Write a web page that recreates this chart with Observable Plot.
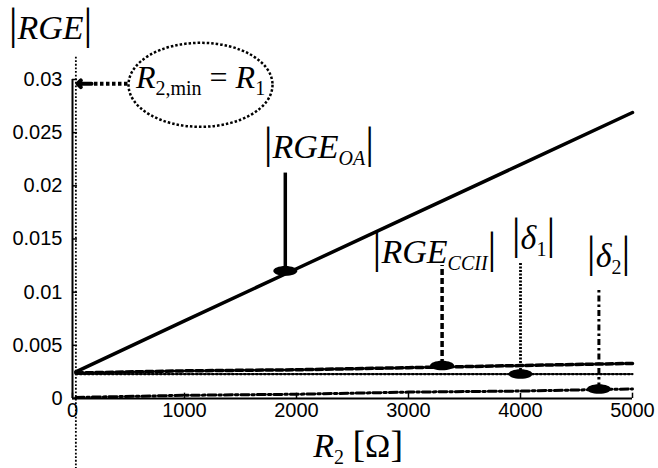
<!DOCTYPE html>
<html><head><meta charset="utf-8">
<script src="https://cdn.jsdelivr.net/npm/d3@7"></script>
<script src="https://cdn.jsdelivr.net/npm/@observablehq/plot@0.6"></script>
<style>body{margin:0;background:#fff} svg{display:block}</style>
</head><body><div id="chart"></div>
<script>
// ---- data ----
const R2 = [30, 1000, 2000, 3000, 4000, 5000];
const rgeOA   = [0.0025, 0.0073, 0.0122, 0.0171, 0.0220, 0.0269];
const rgeCCII = [0.0024, 0.0026, 0.0027, 0.0029, 0.0031, 0.0033];
const delta1  = [0.0023, 0.0023, 0.0023, 0.0023, 0.0023, 0.0023];
const delta2  = [0.0001, 0.0003, 0.0004, 0.0006, 0.0007, 0.0009];
const seriesNames = ["OA", "CCII", "d1", "d2"];
const seriesValues = [rgeOA, rgeCCII, delta1, delta2];

const xTicks = [0, 1000, 2000, 3000, 4000, 5000];
const yTicks = [0, 0.005, 0.01, 0.015, 0.02, 0.025, 0.03];
const yTickLabels = ["0", "0.005", "0.01", "0.015", "0.02", "0.025", "0.03"];

// pointer annotations
const markerR     = [1900, 3300, 4000, 4700];
const markerValue = [0.0120, 0.0031, 0.0023, 0.0009];
const pointerTop  = [0.0212, 0.0125, 0.0128, 0.0104];
const labelText   = ["|RGE_{OA}|", "|RGE_{CCII}|", "|δ_{1}|", "|δ_{2}|"];
const labelR      = [2200, 3232, 4116, 4786];
const labelValue  = [0.0236, 0.0138, 0.0151, 0.0134];

// R2,min = R1 annotation
const R1 = 30;
const minLineTop = 0.0321, minLineBottom = -0.0066;
const noteText = "R_{2,min} = R_{1}";
const noteR = 1143, noteValue = 0.0302, ellipseValue = 0.0295;
const arrowTailR = 491, arrowHeadStartR = 170, arrowTipR = 45, arrowValue = 0.0296;

const titleText = "|RGE|";
const titleR = -196, titleValue = 0.0348;
const xTitleText = "R_{2} [Ω]";
const xTitleR = 2550, xTitleValue = -0.0045;

// ---- build tables ----
const rows = seriesNames.flatMap((s, k) => R2.map((r, i) => ({series: s, R2: r, value: seriesValues[k][i]})));
const pointers = seriesNames.map((s, i) => ({series: s, R2: markerR[i], v: markerValue[i], top: pointerTop[i]}));
const labels = labelText.map((t, i) => ({text: t, R2: labelR[i], v: labelValue[i]}));

const styles = {
  OA:   {line: {strokeWidth: 3.5}, ptr: {strokeWidth: 3.5}},
  CCII: {line: {strokeWidth: 3.5, strokeDasharray: "7,3"}, ptr: {strokeWidth: 3.5, strokeDasharray: "6,3"}},
  d1:   {line: {strokeWidth: 2.2, strokeDasharray: "2,2"}, ptr: {strokeWidth: 2.8, strokeDasharray: "2,1.5"}},
  d2:   {line: {strokeWidth: 3, strokeDasharray: "8,3,2.5,3"}, ptr: {strokeWidth: 3, strokeDasharray: "6,3,2.5,3"}}
};

function ellipseSymbol(ratio) {
  return {draw(ctx, size) {
    const rx = Math.sqrt(size / Math.PI), ry = rx * ratio, k = 0.5523;
    ctx.moveTo(rx, 0);
    ctx.bezierCurveTo(rx, ry * k, rx * k, ry, 0, ry);
    ctx.bezierCurveTo(-rx * k, ry, -rx, ry * k, -rx, 0);
    ctx.bezierCurveTo(-rx, -ry * k, -rx * k, -ry, 0, -ry);
    ctx.bezierCurveTo(rx * k, -ry, rx, -ry * k, rx, 0);
    ctx.closePath();
  }};
}

const serif = "Liberation Serif, Times New Roman, serif";
const sans = "Liberation Sans, Arial, sans-serif";

const marks = [
  // axes lines
  Plot.ruleY([0], {stroke: "black", strokeWidth: 2}),
  Plot.ruleX([0], {stroke: "black", strokeWidth: 2}),
  // inward ticks
  Plot.ruleX(xTicks, {x: d => d, y1: 0, y2: 0.0005, stroke: "black", strokeWidth: 1.5}),
  Plot.ruleY(yTicks, {y: d => d, x1: 0, x2: 45, stroke: "black", strokeWidth: 1.5}),
  // tick labels
  Plot.text(xTicks, {x: d => d, y: 0, dy: 12, text: d => String(d), fontFamily: sans, fontSize: 20, lineAnchor: "middle", fill: "black"}),
  Plot.text(yTicks, {x: 0, y: d => d, dx: -10, text: (d, i) => yTickLabels[i], textAnchor: "end", fontFamily: sans, fontSize: 20, lineAnchor: "middle", fill: "black"}),
  // R2,min vertical dotted
  Plot.ruleX([R1], {x: d => d, y1: minLineTop, y2: minLineBottom, stroke: "black", strokeWidth: 1.8, strokeDasharray: "1.8,1.8"}),
  // series lines
  ...seriesNames.map(s => Plot.line(rows.filter(d => d.series === s), {x: "R2", y: "value", stroke: "black", ...styles[s].line})),
  // pointers
  ...seriesNames.map((s, i) => Plot.ruleX([pointers[i]], {x: "R2", y1: "v", y2: "top", stroke: "black", ...styles[s].ptr})),
  Plot.dot(pointers, {x: "R2", y: "v", r: 12, symbol: ellipseSymbol(0.4), fill: "black", stroke: "none"}),
  // labels
  Plot.text(labels, {x: "R2", y: "v", text: "text", fontFamily: serif, fontSize: 34, fontStyle: "italic", lineAnchor: "middle", fill: "black"}),
  Plot.text([titleText], {x: titleR, y: titleValue, text: d => d, fontFamily: serif, fontSize: 34, fontStyle: "italic", lineAnchor: "middle", fill: "black"}),
  Plot.text([xTitleText], {x: xTitleR, y: xTitleValue, text: d => d, fontFamily: serif, fontSize: 34, fontStyle: "italic", lineAnchor: "middle", fill: "black"}),
  // R2,min annotation
  Plot.dot([noteR], {x: d => d, y: ellipseValue, r: 72, symbol: ellipseSymbol(42 / 72), fill: "none", stroke: "black", strokeWidth: 2.5, strokeDasharray: "2.5,2"}),
  Plot.text([noteText], {x: noteR, y: noteValue, text: d => d, fontFamily: serif, fontSize: 32, fontStyle: "italic", lineAnchor: "middle", fill: "black"}),
  Plot.link([0], {x1: arrowTailR, x2: arrowHeadStartR, y1: arrowValue, y2: arrowValue, stroke: "black", strokeWidth: 4, strokeDasharray: "3.5,2.5"}),
  Plot.arrow([0], {x1: arrowHeadStartR, x2: arrowTipR, y1: arrowValue, y2: arrowValue, stroke: "black", strokeWidth: 4, headLength: 15, headAngle: 90})
];

const plot = Plot.plot({
  width: 658, height: 468,
  marginLeft: 72, marginRight: 26, marginTop: 79, marginBottom: 70,
  x: {domain: [0, 5000], axis: null},
  y: {domain: [0, 0.03], axis: null},
  style: {background: "white", fontFamily: sans},
  marks
});

// rich text: bars, subscripts, italics
function richText(el, s) {
  el.textContent = "";
  el.setAttribute("style", "white-space: pre");
  let shift = 0, i = 0;
  const add = (str, o) => {
    const t = document.createElementNS("http://www.w3.org/2000/svg", "tspan");
    t.textContent = str;
    const sh = o.shift || 0;
    if (sh !== shift) t.setAttribute("dy", sh - shift);
    shift = sh;
    t.setAttribute("font-style", o.italic ? "italic" : "normal");
    if (o.size) t.setAttribute("font-size", o.size);
    el.appendChild(t);
  };
  while (i < s.length) {
    const c = s[i];
    if (c === "_" && s[i + 1] === "{") {
      const j = s.indexOf("}", i);
      const sub = s.slice(i + 2, j);
      add(sub, {italic: /^[A-Z]+$/.test(sub), size: 20, shift: 7});
      i = j + 1;
    } else if (c === "|") { add("|", {size: 44}); i++; }
    else if (c === "[" || c === "]") { add(c, {size: 38}); i++; }
    else if (/[A-Za-zδ]/.test(c)) { add(c, {italic: true}); i++; }
    else { add(c, {}); i++; }
  }
}
d3.select(plot).selectAll("text").each(function () {
  const s = this.textContent;
  if (/[|_\[]/.test(s)) richText(this, s);
});

document.getElementById("chart").appendChild(plot);
</script>
</body></html>
